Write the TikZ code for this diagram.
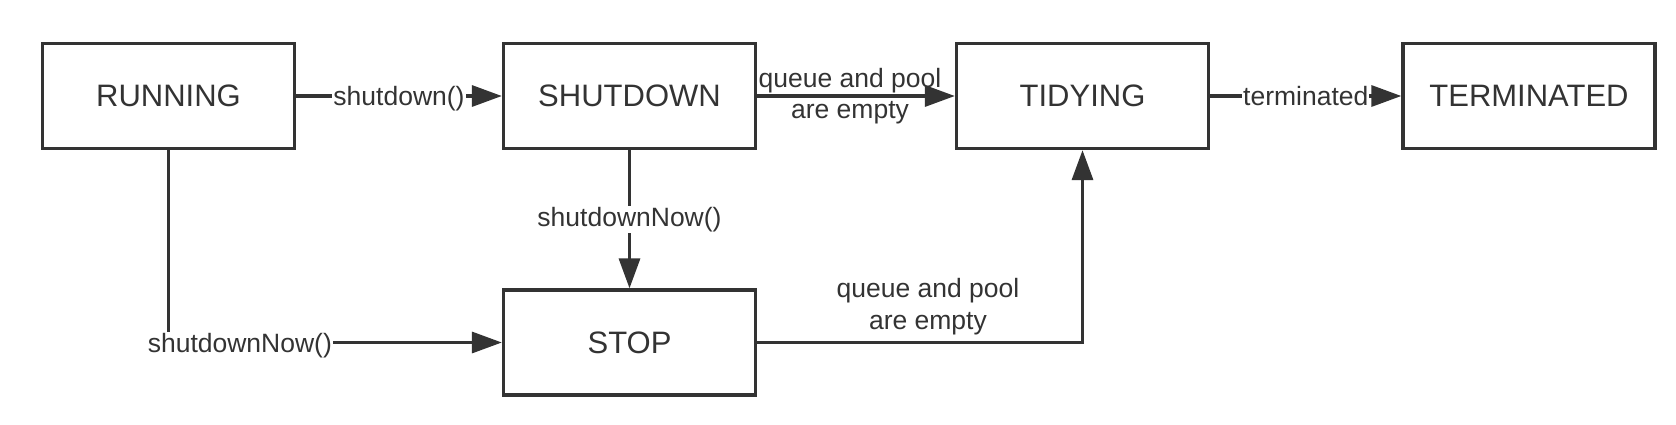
\documentclass[tikz,border=0pt]{standalone}
\usepackage{fontspec}
\setmainfont{Liberation Sans}
\usetikzlibrary{arrows.meta}
\definecolor{ink}{HTML}{333333}
\tikzset{
  statebox/.style={draw=ink, line width=3.3pt, minimum width=252pt, minimum height=105pt, inner sep=0pt, text=ink, font=\fontsize{31}{36}\selectfont},
  conn/.style={draw=ink, line width=3.3pt, -{Triangle[length=30pt,width=21pt]}},
  lbl/.style={fill=white, inner sep=1pt, text=ink, font=\fontsize{26.5}{31}\selectfont},
  lbltwo/.style={inner sep=0pt, text=ink, align=center, font=\fontsize{26.5}{31.5}\selectfont},
}
\begin{document}
\begin{tikzpicture}[x=1pt,y=-1pt]
\useasboundingbox (0,0) rectangle (1676,424);
\node[statebox] (run) at (168.5,96) {RUNNING};
\node[statebox] (sd) at (629.5,96) {SHUTDOWN};
\node[statebox] (tid) at (1082.5,96) {TIDYING};
\node[statebox] (term) at (1529,96) {TERMINATED};
\node[statebox] (stop) at (629.5,342.5) {STOP};

\draw[conn] (run.east) -- node[lbl, yshift=-2.5pt] {shutdown()} (sd.west);
\draw[conn] (tid.east) -- node[lbl] {terminated} (term.west);
\draw[conn] (sd.east) -- node[lbltwo, xshift=-6pt] {queue and pool\\are empty} (tid.west);
\draw[conn] (sd.south) -- node[lbl] {shutdownNow()} (stop.north);
\draw[conn] (run.south) |- node[lbl, pos=0.607, yshift=-3pt] {shutdownNow()} (stop.west);
\draw[conn] (stop.east) -| node[lbltwo, pos=0.2625, yshift=36pt] {queue and pool\\are empty} (tid.south);
\end{tikzpicture}
\end{document}
